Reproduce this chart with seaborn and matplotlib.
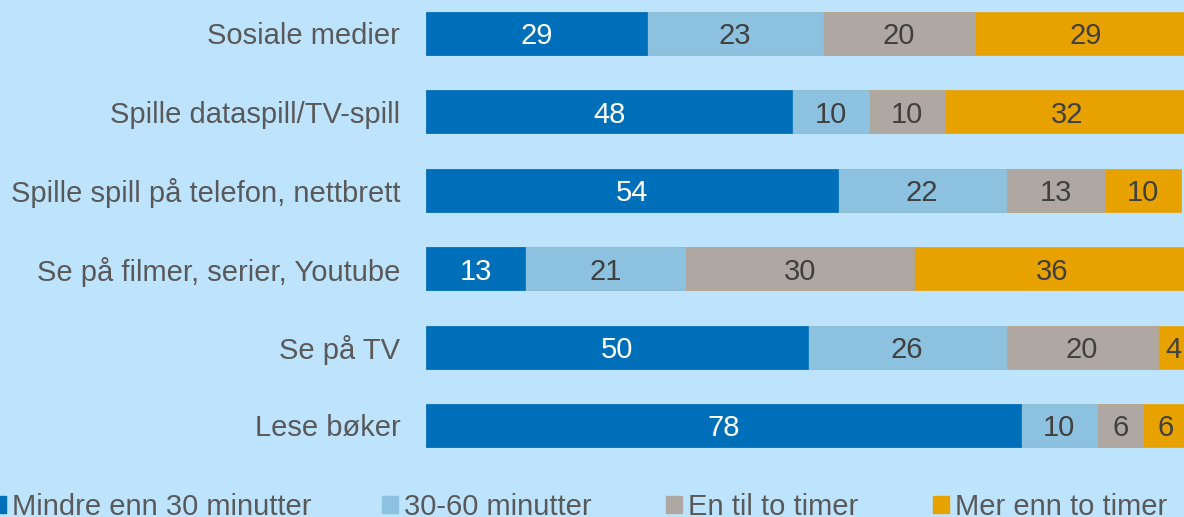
import matplotlib
matplotlib.use("Agg")
import matplotlib.pyplot as plt
from matplotlib.patches import Patch
import numpy as np
import pandas as pd
import seaborn as sns

categories = [
    "Sosiale medier",
    "Spille dataspill/TV-spill",
    "Spille spill på telefon, nettbrett",
    "Se på filmer, serier, Youtube",
    "Se på TV",
    "Lese bøker",
]
series_names = [
    "Mindre enn 30 minutter",
    "30-60 minutter",
    "En til to timer",
    "Mer enn to timer",
]
under_30 = [29, 48, 54, 13, 50, 78]
min_30_60 = [23, 10, 22, 21, 26, 10]
one_to_two = [20, 10, 13, 30, 20, 6]
over_two = [29, 32, 10, 36, 4, 6]

colors = ["#006FBA", "#8CC2DF", "#AFA8A2", "#E8A200"]
label_colors = ["white", "#404040", "#404040", "#404040"]
bg = "#BDE4FC"
text_gray = "#595959"

sns.set_theme(style="white")
plt.rcParams["font.family"] = ["Liberation Sans", "DejaVu Sans"]

values = np.array([under_30, min_30_60, one_to_two, over_two], dtype=float)
cum = np.cumsum(values, axis=0)

fig = plt.figure(figsize=(11.84, 5.17), dpi=100, facecolor=bg)
ax = fig.add_axes([426 / 1184, 47 / 517, 758 / 1184, 470 / 517])
ax.set_facecolor(bg)

# stacked bars: draw cumulative totals from the outermost segment inwards
for i in range(len(series_names) - 1, -1, -1):
    df = pd.DataFrame({"kategori": categories, "verdi": cum[i]})
    sns.barplot(data=df, x="verdi", y="kategori", order=categories,
                color=colors[i], saturation=1, width=0.55,
                edgecolor=colors[i], linewidth=0.5, ax=ax)

# value labels centred on each segment
for i in range(len(series_names)):
    for j, cat in enumerate(categories):
        centre = cum[i][j] - values[i][j] / 2
        ax.text(centre, j, f"{int(values[i][j])}", ha="center",
                va="center_baseline", fontsize=21, color=label_colors[i],
                clip_on=False)

ax.set_xlim(0, 758 / 7.63)
ax.set_ylim(5.568, -0.427)
ax.set_xlabel("")
ax.set_ylabel("")
ax.set_xticks([])
for s in ax.spines.values():
    s.set_visible(False)
ax.tick_params(axis="y", length=0, pad=18.5, labelsize=21, labelcolor=text_gray)

# legend entries laid out in one row beneath the bars
legend_x = [-10, 382, 666, 933]
for name, col, x in zip(series_names, colors, legend_x):
    leg = fig.legend(handles=[Patch(facecolor=col, edgecolor=col)], labels=[name],
                     loc="center left", bbox_to_anchor=(x / 1184, 1 - 507 / 517),
                     frameon=False, fontsize=21, borderpad=0, borderaxespad=0,
                     handlelength=0.54, handleheight=0.54, handletextpad=0.2,
                     labelcolor=text_gray)

fig.savefig("out.png", dpi=100, facecolor=bg)
